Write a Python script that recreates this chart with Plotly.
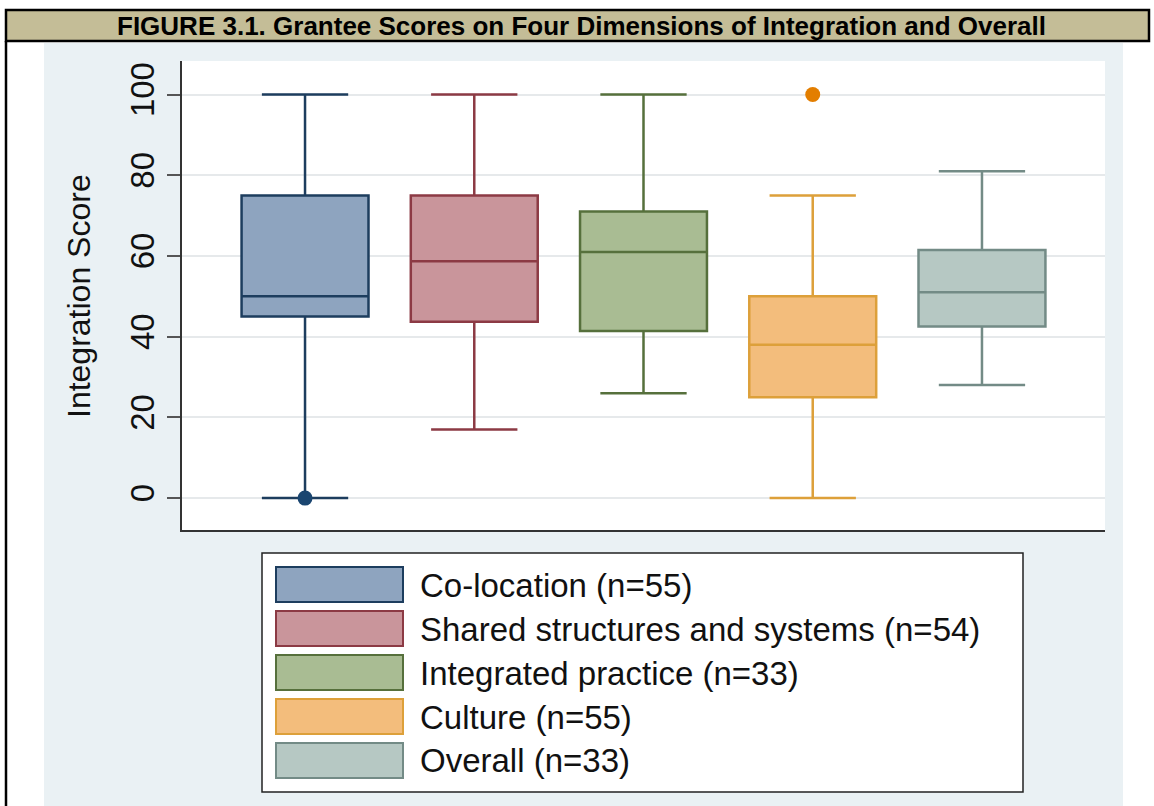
import plotly.graph_objects as go

# ---- data ----
categories = ["Co-location (n=55)", "Shared structures and systems (n=54)",
              "Integrated practice (n=33)", "Culture (n=55)", "Overall (n=33)"]
lower_whisker = [0, 17, 26, 0, 28]
q1 = [45, 43.7, 41.4, 25, 42.5]
median = [50, 58.7, 61, 38, 51]
q3 = [75, 75, 71, 50, 61.5]
upper_whisker = [100, 100, 100, 75, 81]
outlier_group = [0, 3]
outlier_value = [0, 100]
y_ticks = [0, 20, 40, 60, 80, 100]
title_text = "FIGURE 3.1. Grantee Scores on Four Dimensions of Integration and Overall"
y_title = "Integration Score"

# ---- style ----
line_colors = ["#1d3d5e", "#8c3a44", "#56703c", "#dda03a", "#738b86"]
fill_colors = ["#8ea4bf", "#c9959b", "#a9bc93", "#f3bd7c", "#b6c8c3"]
outlier_colors = ["#1a4570", "#e37e00"]
FONT = "Liberation Sans, Arial, sans-serif"

W, H = 1154, 806
L, R, T, B = 182, 1105, 61, 530


def px(x):
    return (x - L) / (R - L)


def py(y):
    return (B - y) / (B - T)


fig = go.Figure()
for i, name in enumerate(categories):
    fig.add_trace(go.Box(
        x=[i], q1=[q1[i]], median=[median[i]], q3=[q3[i]],
        lowerfence=[lower_whisker[i]], upperfence=[upper_whisker[i]],
        orientation="v", width=0.75, whiskerwidth=0.68,
        fillcolor=fill_colors[i], line=dict(color=line_colors[i], width=2.5),
        boxpoints=False, name=name, showlegend=False, hoverinfo="skip"))

for g, v, c in zip(outlier_group, outlier_value, outlier_colors):
    fig.add_trace(go.Scatter(x=[g], y=[v], mode="markers",
                             marker=dict(size=15, color=c, line=dict(width=0)),
                             showlegend=False, hoverinfo="skip"))

shapes = [
    dict(type="rect", xref="paper", yref="paper", x0=px(44), x1=px(1123), y0=py(810), y1=py(43),
         fillcolor="#eaf1f4", line=dict(width=0), layer="below"),
    dict(type="rect", xref="paper", yref="paper", x0=0, x1=1, y0=0, y1=1,
         fillcolor="white", line=dict(width=0), layer="below"),
    dict(type="rect", xref="paper", yref="paper", x0=px(6), x1=px(1149), y0=py(41), y1=py(10),
         fillcolor="#c4bd97", line=dict(color="black", width=2.5), layer="above"),
    dict(type="line", xref="paper", yref="paper", x0=px(6), x1=px(6), y0=py(41), y1=py(812),
         line=dict(color="black", width=2.5), layer="above"),
    dict(type="rect", xref="paper", yref="paper", x0=px(262), x1=px(1023), y0=py(792), y1=py(553),
         fillcolor="white", line=dict(color="#222222", width=1.5), layer="above"),
]
annotations = [
    dict(xref="paper", yref="paper", x=px(581), y=py(26), text="<b>" + title_text + "</b>",
         showarrow=False, xanchor="center", yanchor="middle",
         font=dict(family=FONT, size=26, color="black")),
    dict(xref="paper", yref="paper", x=px(79), y=py(296), text=y_title, textangle=-90,
         showarrow=False, xanchor="center", yanchor="middle",
         font=dict(family=FONT, size=32, color="#111111")),
]
for i, name in enumerate(categories):
    top = 567 + 44 * i
    shapes.append(dict(type="rect", xref="paper", yref="paper", x0=px(276), x1=px(403),
                       y0=py(top + 35), y1=py(top), fillcolor=fill_colors[i],
                       line=dict(color=line_colors[i], width=2), layer="above"))
    annotations.append(dict(xref="paper", yref="paper", x=px(418), y=py(top + 18), text=name,
                            showarrow=False, xanchor="left", yanchor="middle",
                            font=dict(family=FONT, size=33, color="#111111")))

fig.update_layout(
    width=W, height=H, autosize=False,
    margin=dict(l=L, r=W - R, t=T, b=H - B, pad=0),
    paper_bgcolor="white", plot_bgcolor="rgba(0,0,0,0)",
    boxmode="overlay", showlegend=False,
    shapes=shapes, annotations=annotations,
    xaxis=dict(range=[-0.727, 4.727], showgrid=False, zeroline=False, showticklabels=False,
               ticks="", showline=True, linecolor="#333333", linewidth=2),
    yaxis=dict(range=[-7.9, 108.3], tickvals=y_ticks, ticktext=[str(v) for v in y_ticks],
               tickangle=-90, ticks="outside", ticklen=13, tickwidth=2, tickcolor="#555555",
               showgrid=True, gridcolor="#e6e9eb", gridwidth=1.5, zeroline=False,
               showline=True, linecolor="#333333", linewidth=2,
               tickfont=dict(family=FONT, size=33, color="#111111")),
)

fig.write_html("out.html", config={"displayModeBar": False},
               post_script="document.body.style.margin='0';document.body.style.padding='0';"
                           "document.body.style.overflow='hidden';")
